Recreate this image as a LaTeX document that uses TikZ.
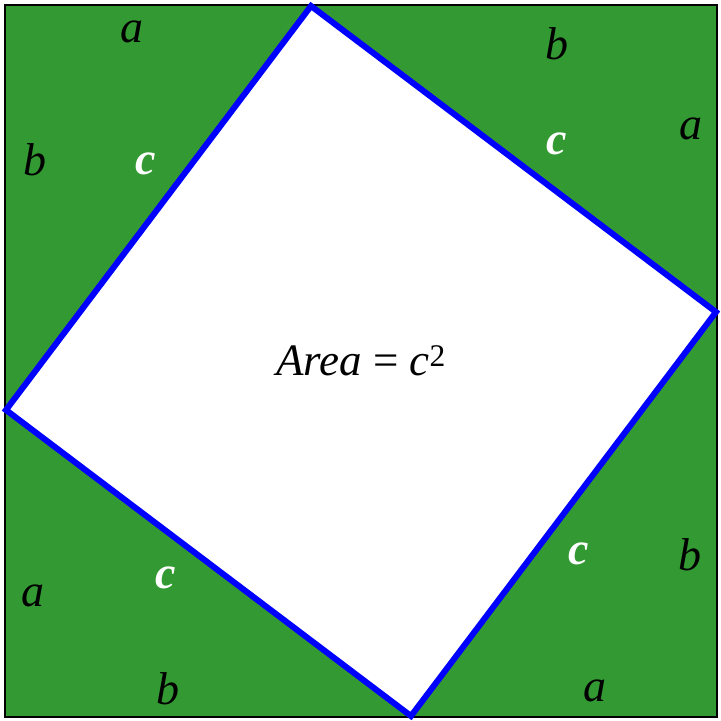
\documentclass[tikz,border=0pt]{standalone}
\usepackage{fontspec}
\setmainfont{Liberation Serif}
\definecolor{pgreen}{HTML}{339933}
\begin{document}
\begin{tikzpicture}[x=1pt,y=-1pt,
  lbl/.style={font=\fontsize{46}{46}\selectfont\itshape, text=black, inner sep=0pt},
  clbl/.style={font=\fontsize{46}{46}\selectfont\bfseries\itshape, text=white, inner sep=0pt}]
\useasboundingbox (0,0) rectangle (721,721);
\coordinate (o1) at (5,5);
\coordinate (o2) at (717,717);
\coordinate (t) at (311,6);
\coordinate (r) at (716,312);
\coordinate (b) at (411,716);
\coordinate (l) at (6,410);
\fill[pgreen] (o1) rectangle (o2);
\draw[black, line width=2pt] (o1) rectangle (o2);
\filldraw[fill=white, draw=blue, line width=6pt, line join=miter] (t) -- (r) -- (b) -- (l) -- cycle;
\node[lbl] (a1) at (132,32) {a};
\node[lbl] (b1) at (557,44) {b};
\node[lbl] (a2) at (691,129) {a};
\node[clbl] (c1) at (557,144) {c};
\node[lbl] (b2) at (35,160) {b};
\node[clbl] (c2) at (146,164) {c};
\node[font=\fontsize{45}{45}\selectfont, inner sep=0pt] (area) at (361,361) {\textit{Area} = \textit{c}\textsuperscript{2}};
\node[clbl] (c3) at (579,554) {c};
\node[lbl] (b3) at (690,555) {b};
\node[lbl] (a3) at (33,596) {a};
\node[clbl] (c4) at (166,578) {c};
\node[lbl] (b4) at (168,689) {b};
\node[lbl] (a4) at (595,691) {a};
\end{tikzpicture}
\end{document}
